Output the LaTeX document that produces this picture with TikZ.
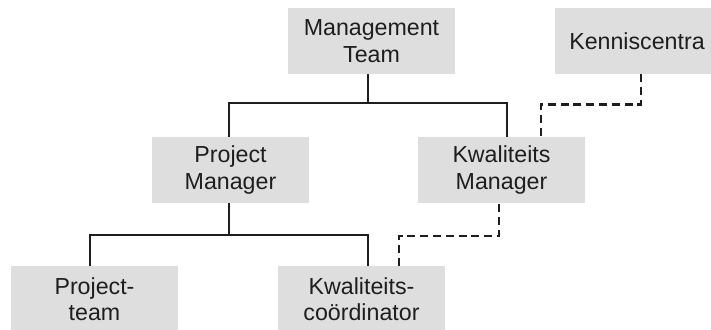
\documentclass[tikz,border=0pt]{standalone}
\usepackage{fontspec}
\setmainfont{Liberation Sans}
\usetikzlibrary{positioning}

\definecolor{boxgray}{HTML}{DEDEDE}
\definecolor{inkgray}{HTML}{1E1E1E}

\begin{document}
\begin{tikzpicture}[x=0.5pt, y={(0pt,-0.5pt)}, unit/.style={rectangle, fill=boxgray, text=inkgray, minimum width=83.5pt, minimum height=33pt, inner sep=0pt, align=center, font=\fontsize{11.6}{13.2}\selectfont}, line/.style={line width=1pt, draw=inkgray}, dashline/.style={line width=1.1pt, draw=inkgray, dash pattern=on 4pt off 2.4pt}]
\useasboundingbox (0,0) rectangle (711,329);
\node [unit] (mt) at (371.5,41) {Management\\Team};
\node [unit, minimum width=82pt] (kc) at (637,41) {Kenniscentra};
\node [unit, minimum width=78.5pt] (pm) at (230.5,170) {Project\\Manager};
\node [unit] (km) at (501.5,170) {Kwaliteits\\Manager};
\node [unit] (pt) at (94.5,299) {Project-\\team};
\node [unit] (kco) at (361.5,299) {Kwaliteits-\\coördinator};
\draw [line] ([xshift=-1.75pt]mt.south) -- ++(0,29) -| ([xshift=-0.75pt]pm.north);
\draw [line] ([xshift=-1.75pt]mt.south) -- ++(0,29) -| ([xshift=2.75pt]km.north);
\draw [line] ([xshift=-0.75pt]pm.south) -- ++(0,32) -| ([xshift=-2.25pt]pt.north);
\draw [line] ([xshift=-0.75pt]pm.south) -- ++(0,32) -| ([xshift=3.25pt]kco.north);
\draw [dashline] ([xshift=2pt]kc.south) -- ++(0,30) -| ([xshift=19.75pt]km.north);
\draw [dashline] ([xshift=18.75pt]kco.north) -- ++(0,-30) -| ([xshift=-1.25pt]km.south);
\end{tikzpicture}
\end{document}
